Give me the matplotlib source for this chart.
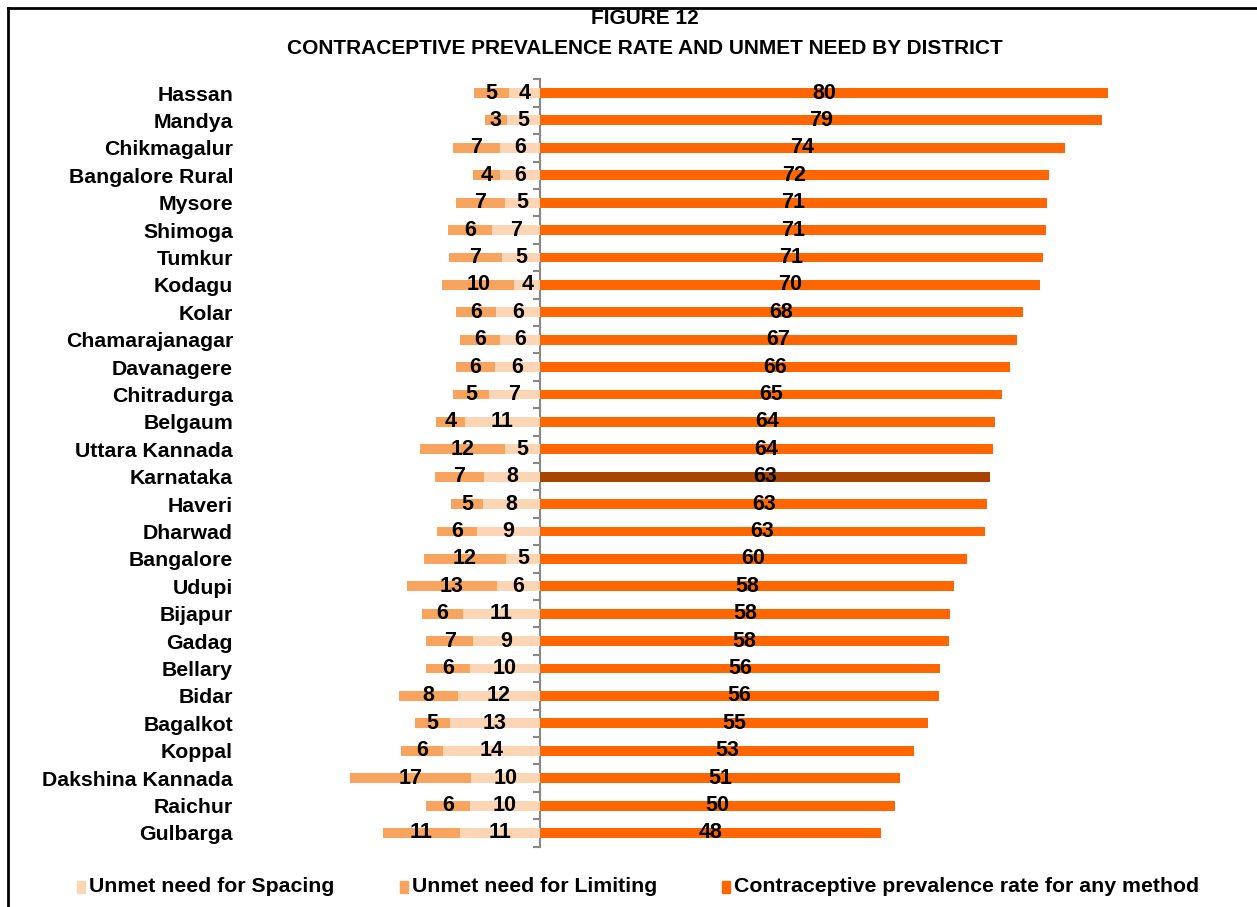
import numpy as np
import matplotlib.pyplot as plt
from matplotlib.lines import Line2D

plt.rcParams['font.family'] = ['Liberation Sans', 'DejaVu Sans']
plt.rcParams['font.weight'] = 'bold'

districts = ["Hassan", "Mandya", "Chikmagalur", "Bangalore Rural", "Mysore", "Shimoga",
             "Tumkur", "Kodagu", "Kolar", "Chamarajanagar", "Davanagere", "Chitradurga",
             "Belgaum", "Uttara Kannada", "Karnataka", "Haveri", "Dharwad", "Bangalore",
             "Udupi", "Bijapur", "Gadag", "Bellary", "Bidar", "Bagalkot", "Koppal",
             "Dakshina Kannada", "Raichur", "Gulbarga"]
spacing = [4.4, 4.7, 5.7, 5.6, 4.9, 6.8, 5.4, 3.6, 6.2, 5.6, 6.3, 7.2, 10.6, 4.9,
           7.9, 8.0, 8.9, 4.8, 6.1, 10.9, 9.4, 9.9, 11.6, 12.7, 13.6, 9.7, 9.9, 11.3]
limiting = [4.9, 3.0, 6.6, 3.8, 7.0, 6.1, 7.4, 10.2, 5.7, 5.6, 5.6, 5.0, 4.1, 12.0,
            6.9, 4.6, 5.6, 11.6, 12.7, 5.7, 6.6, 6.1, 8.2, 4.9, 6.0, 17.0, 6.2, 10.8]
cpr = [80.0, 79.2, 73.9, 71.7, 71.4, 71.3, 70.8, 70.4, 68.0, 67.2, 66.2, 65.1, 64.1, 63.8,
       63.4, 63.0, 62.7, 60.1, 58.3, 57.7, 57.6, 56.3, 56.2, 54.6, 52.7, 50.7, 50.0, 48.0]

c_spacing = "#FCD5B5"
c_limiting = "#F8A35E"
c_cpr = "#FF6600"
c_state = "#A84400"

fig = plt.figure(figsize=(12.57, 9.07), dpi=100)
ax = fig.add_axes([240 / 1257, 1 - 846.7 / 907, 960 / 1257, (846.7 - 79.3) / 907])

y = np.arange(len(districts))
sp = np.array(spacing)
lim = np.array(limiting)
cp = np.array(cpr)
h = 0.36

ax.barh(y, -sp, height=h, color=c_spacing)
ax.barh(y, -lim, left=-sp, height=h, color=c_limiting)
cols = [c_state if d == "Karnataka" else c_cpr for d in districts]
ax.barh(y, cp, height=h, color=cols)

fs = 15.3
nfs = 15.5
for i in range(len(districts)):
    ax.text(-sp[i] / 2, y[i], f"{sp[i]:.0f}", ha="center", va="center", fontsize=nfs, fontweight="bold")
    ax.text(-sp[i] - lim[i] / 2, y[i], f"{lim[i]:.0f}", ha="center", va="center", fontsize=nfs, fontweight="bold")
    ax.text(cp[i] / 2, y[i], f"{cp[i]:.0f}", ha="center", va="center", fontsize=nfs, fontweight="bold")

ax.set_xlim(-300 / 7.1, 660 / 7.1)
ax.set_ylim(len(districts) - 0.5, -0.5)
ax.set_yticks(y)
ax.set_yticklabels(districts, fontsize=fs, fontweight="bold")
ax.tick_params(axis="y", length=0, pad=5)
ax.set_xticks([])
for s in ax.spines.values():
    s.set_visible(False)

# category axis drawn at zero
zero = (300 / 7.1) / (960 / 7.1)
sec = ax.secondary_yaxis(zero)
sec.set_yticks(np.arange(-0.5, len(districts), 1.0))
sec.set_yticklabels([])
sec.tick_params(axis="y", direction="out", length=5, color="#878787", width=1.5)
sec.spines["left"].set_color("#878787")
sec.spines["left"].set_linewidth(1.5)

fig.text(645 / 1257, 1 - 18 / 907, "FIGURE 12", ha="center", va="center", fontsize=15, fontweight="bold")
fig.text(645 / 1257, 1 - 49 / 907, "CONTRACEPTIVE PREVALENCE RATE AND UNMET NEED BY DISTRICT",
         ha="center", va="center", fontsize=15, fontweight="bold")

# legend
leg_items = [(77, c_spacing, "Unmet need for Spacing"),
             (400, c_limiting, "Unmet need for Limiting"),
             (722, c_cpr, "Contraceptive prevalence rate for any method")]
for x0, c, lab in leg_items:
    fig.patches.append(plt.Rectangle((x0 / 1257, 1 - 893 / 907), 8 / 1257, 12 / 907,
                                     transform=fig.transFigure, color=c))
    fig.text((x0 + 12) / 1257, 1 - 887 / 907, lab, ha="left", va="center", fontsize=15.3, fontweight="bold")

# outer frame (cropped)
fig.add_artist(Line2D([7.5 / 1257, 7.5 / 1257], [0, 1 - 8 / 907], color="black", lw=2))
fig.add_artist(Line2D([7.5 / 1257, 1], [1 - 8 / 907, 1 - 8 / 907], color="black", lw=2))

fig.savefig("out.png", dpi=100)
